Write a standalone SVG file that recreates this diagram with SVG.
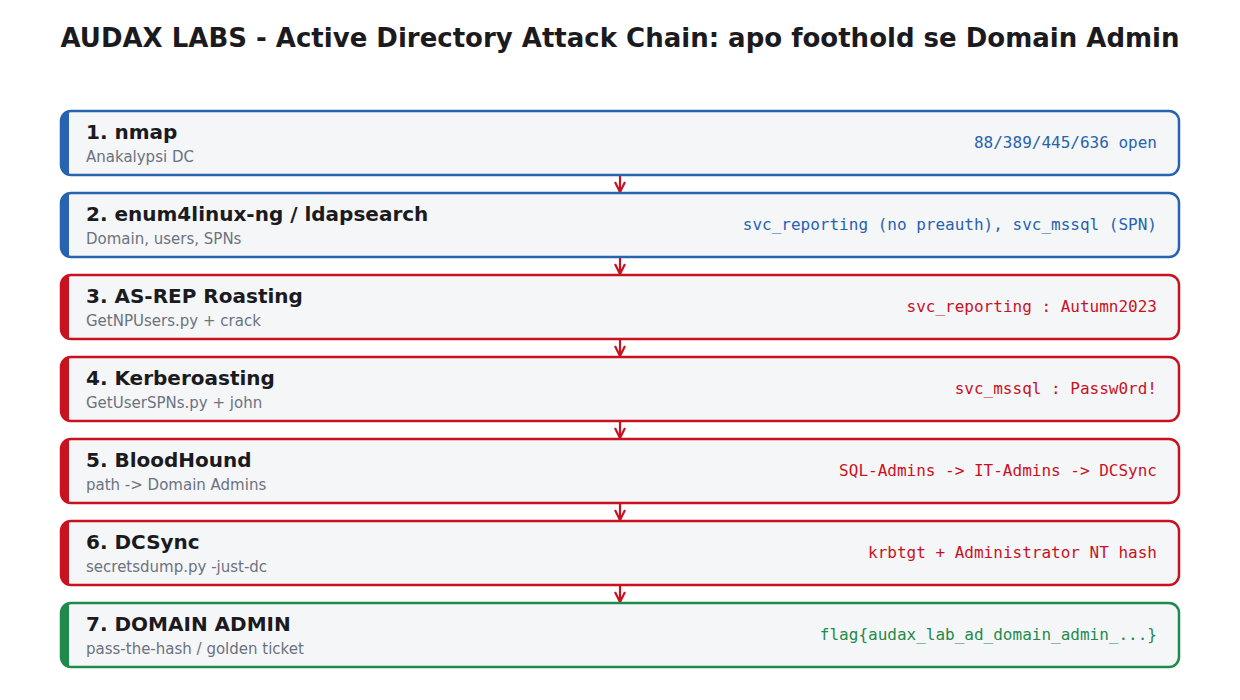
<svg xmlns="http://www.w3.org/2000/svg" width="1240" height="700" viewBox="0 0 1240 700">
<style>
.title{font-family:"DejaVu Sans",sans-serif;font-weight:bold;font-size:26px;fill:#1b1b1f}
.card{fill:#f5f6f8;stroke-width:2.5}
.h{font-family:"DejaVu Sans",sans-serif;font-weight:bold;font-size:20px;fill:#1b1b1f}
.s{font-family:"DejaVu Sans",sans-serif;font-size:15px;fill:#6b7280}
.m{font-family:"DejaVu Sans Mono",monospace;font-size:16px;text-anchor:end}
.blue .card{stroke:#2763ae}.blue .bar{fill:#2763ae}.blue .m{fill:#2763ae}
.red .card{stroke:#c8121f}.red .bar{fill:#c8121f}.red .m{fill:#c8121f}
.green .card{stroke:#1f8a4c}.green .bar{fill:#1f8a4c}.green .m{fill:#1f8a4c}
.conn line{stroke:#c8121f;stroke-width:2.2}
</style>
<defs>
<clipPath id="cc"><rect x="61" y="0" width="1118" height="64" rx="10"/></clipPath>
<marker id="ah" viewBox="0 0 12 12" refX="11" refY="6" markerWidth="12" markerHeight="12" markerUnits="userSpaceOnUse" orient="auto">
<path d="M1,1 L11,6 L1,11" fill="none" stroke="#c8121f" stroke-width="2.2"/>
</marker>
</defs>
<rect width="1240" height="700" fill="#ffffff"/>
<text class="title" x="620" y="47" text-anchor="middle">AUDAX LABS - Active Directory Attack Chain: apo foothold se Domain Admin</text>

<g class="conn">
<line x1="620" y1="176" x2="620" y2="192" marker-end="url(#ah)"/>
<line x1="620" y1="258" x2="620" y2="274" marker-end="url(#ah)"/>
<line x1="620" y1="340" x2="620" y2="356" marker-end="url(#ah)"/>
<line x1="620" y1="422" x2="620" y2="438" marker-end="url(#ah)"/>
<line x1="620" y1="504" x2="620" y2="520" marker-end="url(#ah)"/>
<line x1="620" y1="586" x2="620" y2="602" marker-end="url(#ah)"/>
</g>

<g id="step1" class="blue" transform="translate(0,111)">
<rect class="card" x="61" y="0" width="1118" height="64" rx="10"/>
<rect class="bar" x="61" y="0" width="8" height="64" clip-path="url(#cc)"/>
<text class="h" x="86" y="28">1. nmap</text>
<text class="s" x="86" y="51">Anakalypsi DC</text>
<text class="m" x="1157" y="37">88/389/445/636 open</text>
</g>
<g id="step2" class="blue" transform="translate(0,193)">
<rect class="card" x="61" y="0" width="1118" height="64" rx="10"/>
<rect class="bar" x="61" y="0" width="8" height="64" clip-path="url(#cc)"/>
<text class="h" x="86" y="28">2. enum4linux-ng / ldapsearch</text>
<text class="s" x="86" y="51">Domain, users, SPNs</text>
<text class="m" x="1157" y="37">svc_reporting (no preauth), svc_mssql (SPN)</text>
</g>
<g id="step3" class="red" transform="translate(0,275)">
<rect class="card" x="61" y="0" width="1118" height="64" rx="10"/>
<rect class="bar" x="61" y="0" width="8" height="64" clip-path="url(#cc)"/>
<text class="h" x="86" y="28">3. AS-REP Roasting</text>
<text class="s" x="86" y="51">GetNPUsers.py + crack</text>
<text class="m" x="1157" y="37">svc_reporting : Autumn2023</text>
</g>
<g id="step4" class="red" transform="translate(0,357)">
<rect class="card" x="61" y="0" width="1118" height="64" rx="10"/>
<rect class="bar" x="61" y="0" width="8" height="64" clip-path="url(#cc)"/>
<text class="h" x="86" y="28">4. Kerberoasting</text>
<text class="s" x="86" y="51">GetUserSPNs.py + john</text>
<text class="m" x="1157" y="37">svc_mssql : Passw0rd!</text>
</g>
<g id="step5" class="red" transform="translate(0,439)">
<rect class="card" x="61" y="0" width="1118" height="64" rx="10"/>
<rect class="bar" x="61" y="0" width="8" height="64" clip-path="url(#cc)"/>
<text class="h" x="86" y="28">5. BloodHound</text>
<text class="s" x="86" y="51">path -&gt; Domain Admins</text>
<text class="m" x="1157" y="37">SQL-Admins -&gt; IT-Admins -&gt; DCSync</text>
</g>
<g id="step6" class="red" transform="translate(0,521)">
<rect class="card" x="61" y="0" width="1118" height="64" rx="10"/>
<rect class="bar" x="61" y="0" width="8" height="64" clip-path="url(#cc)"/>
<text class="h" x="86" y="28">6. DCSync</text>
<text class="s" x="86" y="51">secretsdump.py -just-dc</text>
<text class="m" x="1157" y="37">krbtgt + Administrator NT hash</text>
</g>
<g id="step7" class="green" transform="translate(0,603)">
<rect class="card" x="61" y="0" width="1118" height="64" rx="10"/>
<rect class="bar" x="61" y="0" width="8" height="64" clip-path="url(#cc)"/>
<text class="h" x="86" y="28">7. DOMAIN ADMIN</text>
<text class="s" x="86" y="51">pass-the-hash / golden ticket</text>
<text class="m" x="1157" y="37">flag{audax_lab_ad_domain_admin_...}</text>
</g>
</svg>
